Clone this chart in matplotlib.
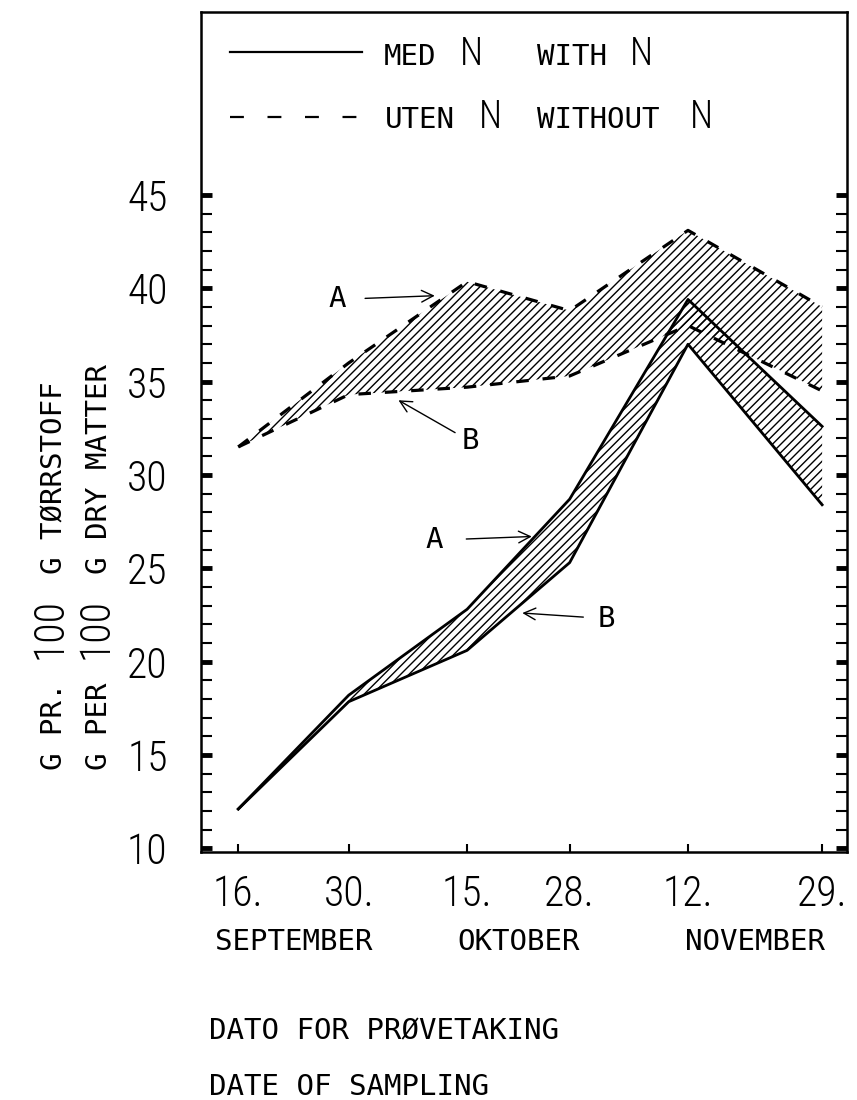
import matplotlib
matplotlib.use('Agg')
import matplotlib.pyplot as plt
from matplotlib.ticker import FixedLocator
from matplotlib.transforms import blended_transform_factory

# sampling dates, as days after 16 September
days = [0, 14, 29, 42, 57, 74]
day_labels = ['16.', '30.', '15.', '28.', '12.', '29.']
months = ['SEPTEMBER', 'OKTOBER', 'NOVEMBER']
month_dates = [(0, 1), (2, 3), (4, 5)]

# g dry matter per 100 g, upper (A) and lower (B) edge of each band
without_n_a = [31.5, 36.0, 40.35, 38.8, 43.1, 39.0]
without_n_b = [31.5, 34.3, 34.7, 35.3, 38.0, 34.5]
with_n_a = [12.1, 18.2, 22.8, 28.7, 39.4, 32.6]
with_n_b = [12.1, 17.85, 20.6, 25.3, 37.0, 28.4]

y_ticks = [10, 15, 20, 25, 30, 35, 40, 45]
y_minor = list(range(10, 46))

# A / B pointers: label position and arrow head (data units)
ann_labels = ['A', 'B', 'A', 'B']
ann_text = [(12.5, 39.4), (29.4, 31.8), (24.8, 26.5), (46.6, 22.3)]
ann_head = [(24.9, 39.6), (20.3, 34.0), (37.2, 26.7), (36.0, 22.6)]

MONO = ['DejaVu Sans Mono']
THIN = ['Roboto Condensed', 'Asap Condensed', 'DejaVu Sans']
THIN_W = 'light'

plt.rcParams['lines.scale_dashes'] = False
plt.rcParams['hatch.linewidth'] = 1.0

fig = plt.figure(figsize=(8.57, 11), dpi=100)
ax = fig.add_axes([0.2345, 0.2255, 0.7538, 0.7636])

# hatched bands
ax.fill_between(days, without_n_b, without_n_a, facecolor='none',
                edgecolor='black', hatch='////', linewidth=0)
ax.fill_between(days, with_n_b, with_n_a, facecolor='none',
                edgecolor='black', hatch='////', linewidth=0)

ax.plot(days, without_n_a, color='black', lw=2.3, dashes=(9, 10))
ax.plot(days, without_n_b, color='black', lw=2.3, dashes=(9, 10))
ax.plot(days, with_n_a, color='black', lw=2.0)
ax.plot(days, with_n_b, color='black', lw=2.0)

shrink = [12, 3, 15, 8]
for lab, xyt, xyh, s in zip(ann_labels, ann_text, ann_head, shrink):
    ax.annotate(lab, xy=xyh, xytext=xyt, ha='center', va='center',
                fontsize=21, family=MONO,
                arrowprops=dict(arrowstyle='->', color='black', lw=1.0,
                                shrinkA=s, shrinkB=0))

# axes
ax.set_xlim(-4.73, 77.15)
ax.set_ylim(9.8, 54.8)
ax.set_xticks(days, labels=day_labels, fontsize=30, family=THIN,
              fontweight=THIN_W)
ax.tick_params(axis='x', direction='in', length=6, width=1.5, pad=16,
               top=False)
ax.set_yticks(y_ticks, labels=[str(v) for v in y_ticks], fontsize=30,
              family=THIN, fontweight=THIN_W)
ax.yaxis.set_minor_locator(FixedLocator(y_minor))
ax.tick_params(axis='y', which='both', direction='in', left=True,
               right=True, pad=24)
ax.tick_params(axis='y', which='major', length=8, width=3.5)
ax.tick_params(axis='y', which='minor', length=8, width=1.5)
for sp in ax.spines.values():
    sp.set_linewidth(1.8)

# month names under the day labels
trans = blended_transform_factory(ax.transData, ax.transAxes)
for name, (i, j) in zip(months, month_dates):
    ax.text((days[i] + days[j]) / 2, -0.107, name, transform=trans,
            ha='center', va='center', fontsize=21, family=MONO)

# legend drawn by hand (N is set in the larger face)
ax.plot([0.045, 0.249], [0.952, 0.952], color='black', lw=1.6,
        transform=ax.transAxes)
ax.plot([0.045, 0.249], [0.875, 0.875], color='black', lw=1.6,
        dashes=(10, 17), transform=ax.transAxes)
leg_words = [('MED', 0.283, 0.937), ('WITH', 0.520, 0.937),
             ('UTEN', 0.285, 0.862), ('WITHOUT', 0.520, 0.862)]
leg_n = [(0.401, 0.937), (0.664, 0.937), (0.430, 0.862), (0.757, 0.862)]
for w, x, y in leg_words:
    ax.text(x, y, w, transform=ax.transAxes, fontsize=21, family=MONO,
            va='baseline')
for x, y in leg_n:
    ax.text(x, y, 'N', transform=ax.transAxes, fontsize=27, family=THIN,
            fontweight=THIN_W, va='baseline')


# y axis titles, rotated, with the larger "100"
def rotated_label(x, y, parts):
    prev = fig.text(x, y, parts[0][0], rotation=90, rotation_mode='anchor',
                    ha='left', va='baseline', fontsize=parts[0][1],
                    family=parts[0][2], fontweight=parts[0][3])
    for s, size, fam, wt in parts[1:]:
        prev = ax.annotate(s, xy=(x, 1.0), xycoords=('figure fraction', prev),
                           xytext=(0, 17), textcoords='offset points',
                           rotation=90, rotation_mode='anchor', ha='left',
                           va='baseline', fontsize=size, family=fam,
                           fontweight=wt, annotation_clip=False)


rotated_label(0.0723, 0.30, [('G PR.', 21, MONO, 'normal'),
                             ('100', 30, THIN, THIN_W),
                             ('G TØRRSTOFF', 21, MONO, 'normal')])
rotated_label(0.125, 0.30, [('G PER', 21, MONO, 'normal'),
                            ('100', 30, THIN, THIN_W),
                            ('G DRY MATTER', 21, MONO, 'normal')])

fig.text(0.244, 0.062, 'DATO FOR PRØVETAKING', fontsize=21, family=MONO,
         va='center')
fig.text(0.244, 0.012, 'DATE OF SAMPLING', fontsize=21, family=MONO,
         va='center')

fig.savefig('out.png', dpi=100)
